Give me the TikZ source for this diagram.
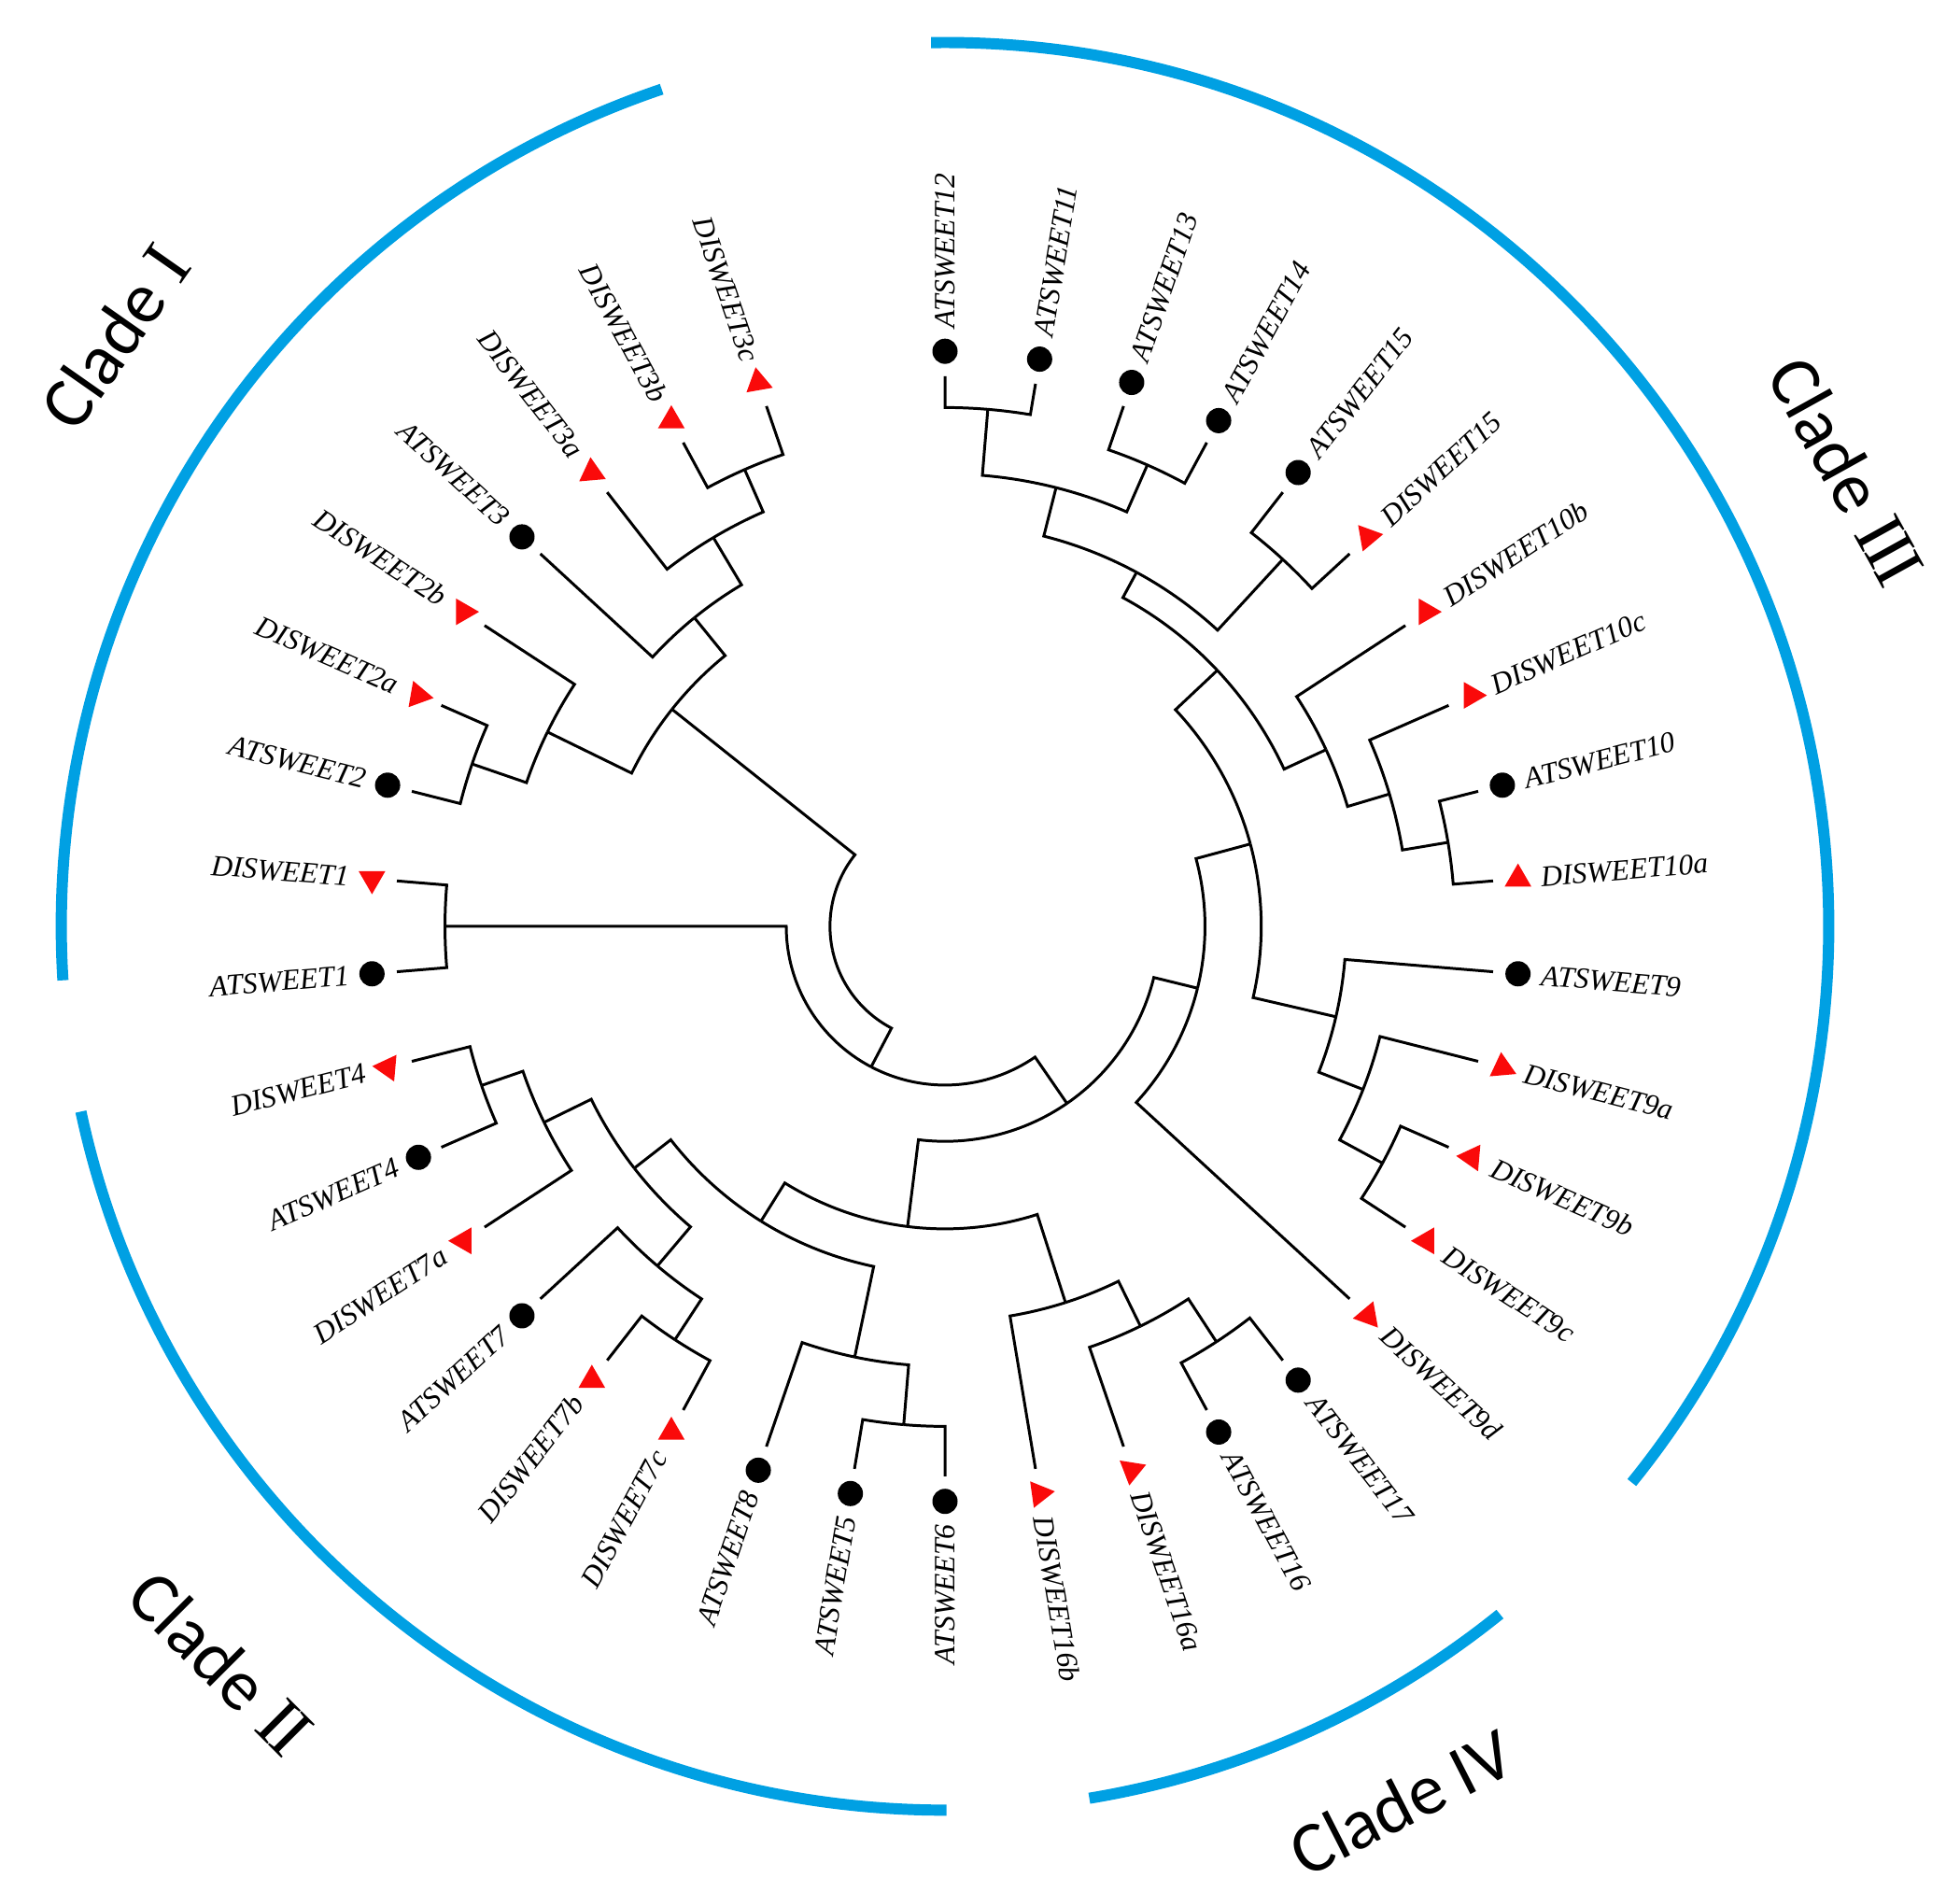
\documentclass[tikz,border=0pt]{standalone}
\usepackage{fontspec}
\usepackage{xcolor}
\setmainfont{Liberation Serif}
\newfontfamily\cladefont{Carlito}
\newfontfamily\numfont{Liberation Serif}
\usetikzlibrary{shapes.geometric}
\definecolor{cladeblue}{RGB}{0, 160, 227}
\definecolor{trired}{RGB}{250, 10, 10}
\tikzset{
    branch/.style={line width=0.85pt, black},
    atdot/.style={circle, fill=black, inner sep=0pt, minimum size=2.7mm},
    ditri/.style={regular polygon, regular polygon sides=3, fill=trired, inner sep=0pt, minimum size=3.3mm},
    leaflabel/.style={font=\fontsize{9}{10}\selectfont\itshape, inner sep=0pt},
    cladearc/.style={line width=3.4pt, cladeblue},
    cladelabel/.style={font=\fontsize{22}{24}\selectfont\cladefont, inner sep=0pt}
}
\newcommand\setang[2]{\expandafter\xdef\csname ndang#1\endcsname{#2}}
\newcommand\getang[1]{\csname ndang#1\endcsname}
\newcommand\joinnode[4]{%
    \pgfmathsetmacro\midang{(\getang{#2}+\getang{#3})/2}%
    \setang{#1}{\midang}%
    \coordinate (#1) at (\midang:#4);
    \draw[branch] (#1) arc[start angle=\midang, end angle=\getang{#2}, radius=#4] -- (#2);
    \draw[branch] (#1) arc[start angle=\midang, end angle=\getang{#3}, radius=#4] -- (#3);
}
\newcommand\rnum[1]{\hspace{0.25em}{\numfont #1}}

\begin{document}
\begin{tikzpicture}[x=0.13387mm, y=0.13387mm]
    \useasboundingbox (-756,-772) rectangle (812,741);

    % leaves
    \foreach \nm/\txt/\mk [count=\i] in {
        at12/ATSWEET12/999, at11/ATSWEET11/999, at13/ATSWEET13/999, at14/ATSWEET14/999,
        at15/ATSWEET15/999, di15/DISWEET15/10, di10b/DISWEET10b/0, di10c/DISWEET10c/0,
        at10/ATSWEET10/999, di10a/DISWEET10a/90, at9/ATSWEET9/999, di9a/DISWEET9a/95,
        di9b/DISWEET9b/175, di9c/DISWEET9c/180, di9d/DISWEET9d/190, at17/ATSWEET17/999,
        at16/ATSWEET16/999, di16a/DISWEET16a/-99, di16b/DISWEET16b/8, at6/ATSWEET6/999,
        at5/ATSWEET5/999, at8/ATSWEET8/999, di7c/DISWEET7c/90, di7b/DISWEET7b/90,
        at7/ATSWEET7/999, di7a/DISWEET7a/180, at4/ATSWEET4/999, di4/DISWEET4/175,
        at1/ATSWEET1/999, di1/DISWEET1/-90, at2/ATSWEET2/999, di2a/DISWEET2a/-10,
        di2b/DISWEET2b/0, at3/ATSWEET3/999, di3a/DISWEET3a/95, di3b/DISWEET3b/90,
        di3c/DISWEET3c/100} {
        \pgfmathsetmacro\ang{90-(\i-1)*360/38}
        \setang{\nm}{\ang}
        \coordinate (\nm) at (\ang:440);
        \ifnum\mk=999
            \node[atdot] (\nm-m) at (\ang:460) {};
        \else
            \node[ditri, rotate=\mk-90] (\nm-m) at (\ang:460) {};
        \fi
        \pgfmathtruncatemacro\flip{\ang<-89.9}
        \ifnum\flip=1
            \node[leaflabel, anchor=east, rotate=\ang+180] (\nm-t) at (\ang:478) {\txt};
        \else
            \node[leaflabel, anchor=west, rotate=\ang] (\nm-t) at (\ang:478) {\txt};
        \fi
    }

    % clade III
    \joinnode{n1211}{at12}{at11}{415}
    \joinnode{n1314}{at13}{at14}{403}
    \joinnode{n1114}{n1211}{n1314}{362}
    \joinnode{n15}{at15}{di15}{399}
    \joinnode{n1115}{n1114}{n15}{322}
    \joinnode{n10a}{at10}{di10a}{408}
    \joinnode{n10c}{di10c}{n10a}{371}
    \joinnode{n10b}{di10b}{n10c}{336}
    \joinnode{nup}{n1115}{n10b}{299}
    \joinnode{n9bc}{di9b}{di9c}{398}
    \joinnode{n9a}{di9a}{n9bc}{359}
    \joinnode{n9}{at9}{n9a}{321}
    \joinnode{nIII}{nup}{n9}{253}
    \joinnode{n9d}{nIII}{di9d}{208}
    % clade IV
    \joinnode{n1716}{at17}{at16}{397}
    \joinnode{n16a}{di16a}{n1716}{356}
    \joinnode{nIV}{di16b}{n16a}{316}
    % clade II
    \joinnode{n56}{at6}{at5}{400}
    \joinnode{n8}{n56}{at8}{352}
    \joinnode{n7bc}{di7c}{di7b}{395}
    \joinnode{n7}{n7bc}{at7}{356}
    \joinnode{n4}{at4}{di4}{392}
    \joinnode{n7a}{di7a}{n4}{357}
    \joinnode{n47}{n7}{n7a}{315}
    \joinnode{nII}{n8}{n47}{278}
    \joinnode{nIIIV}{nIV}{nII}{242}
    \joinnode{nlow}{n9d}{nIIIV}{172}
    \joinnode{n1}{at1}{di1}{400}
    \joinnode{nmid}{nlow}{n1}{127}
    % clade I
    \joinnode{n2a}{at2}{di2a}{400}
    \joinnode{n2b}{n2a}{di2b}{354}
    \joinnode{n3bc}{di3b}{di3c}{399}
    \joinnode{n3a}{di3a}{n3bc}{362}
    \joinnode{n3}{at3}{n3a}{318}
    \joinnode{nI}{n2b}{n3}{279}
    \joinnode{root}{nmid}{nI}{92}

    % clade rings
    \draw[cladearc] (108.7:707) arc[start angle=108.7, end angle=183.5, radius=707];
    \draw[cladearc] (192.1:707) arc[start angle=192.1, end angle=270.1, radius=707];
    \draw[cladearc] (-80.6:707) arc[start angle=-80.6, end angle=-51.1, radius=707];
    \draw[cladearc] (90.9:707) arc[start angle=90.9, end angle=-39, radius=707];

    \node[cladelabel, rotate=55] (cladeI) at (144.6:815) {Clade\rnum{I}};
    \node[cladelabel, rotate=-45] (cladeII) at (225.5:826) {Clade\rnum{I\kern-0.05em I}};
    \node[cladelabel, rotate=-61] (cladeIII) at (26.8:808) {Clade\rnum{I\kern-0.05em I\kern-0.05em I}};
    \node[cladelabel, rotate=27] (cladeIV) at (-62.5:790) {Clade IV};
\end{tikzpicture}
\end{document}
